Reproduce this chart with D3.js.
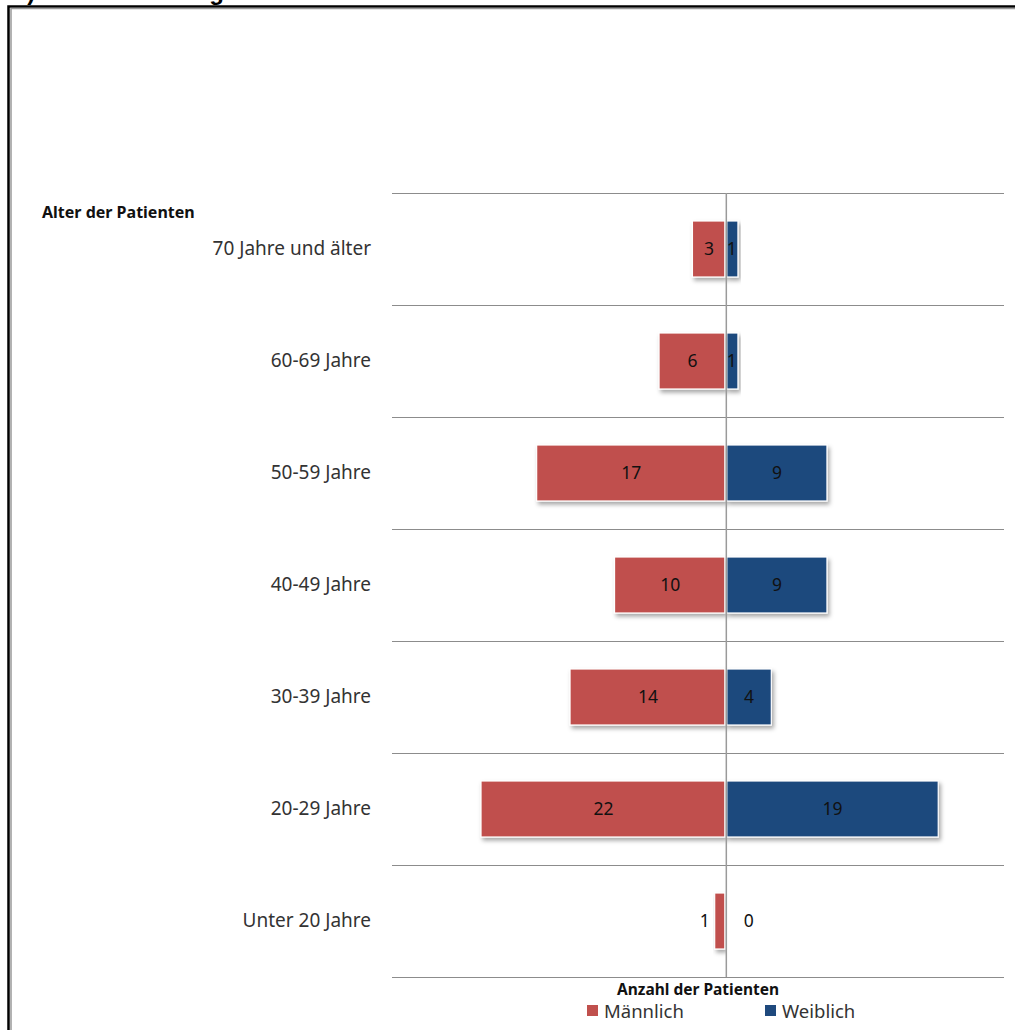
<!DOCTYPE html>
<html>
<head>
<meta charset="utf-8">
<script src="https://cdn.jsdelivr.net/npm/d3@7"></script>
<style>
  html, body { margin: 0; padding: 0; background: #fff; }
  svg { display: block; }
</style>
</head>
<body>
<script>
// Age groups, top to bottom
const categories = ["70 Jahre und älter", "60-69 Jahre", "50-59 Jahre", "40-49 Jahre", "30-39 Jahre", "20-29 Jahre", "Unter 20 Jahre"];
// Patient counts per age group
const maleValues = [3, 6, 17, 10, 14, 22, 1];
const femaleValues = [1, 1, 9, 9, 4, 19, 0];
const seriesNames = ["Männlich", "Weiblich"];
const seriesColors = ["#C0504D", "#1F497D"];

const W = 1015, H = 1030;
const svg = d3.select("body").append("svg").attr("width", W).attr("height", H);

// drop shadow for the bars
const defs = svg.append("defs");
const f = defs.append("filter").attr("id", "shadow")
  .attr("x", "-10%").attr("y", "-10%").attr("width", "130%").attr("height", "140%");
f.append("feDropShadow").attr("dx", 2).attr("dy", 3).attr("stdDeviation", 2)
  .attr("flood-color", "#000").attr("flood-opacity", 0.35);

// page title (mostly above the visible area)
svg.append("text").attr("x", 14).attr("y", 0)
  .attr("font-family", "Liberation Sans, Arial, sans-serif").attr("font-weight", "bold")
  .attr("font-size", 24).attr("fill", "#000")
  .text("3) Altersverteilung der Patienten");

// frame
svg.append("path").attr("d", `M8.5,${H} V6.5 H${W}`).attr("fill", "none").attr("stroke", "#000").attr("stroke-width", 2.5);
svg.append("path").attr("d", `M11,${H} V8.5 H${W}`).attr("fill", "none").attr("stroke", "#999").attr("stroke-width", 1.5);

const x = d3.scaleLinear().domain([-30, 25]).range([392, 1004]);
const y = d3.scaleBand().domain(categories).range([193, 977]).paddingInner(0.5).paddingOuter(0.25);

// category separators
const step = y.step();
const bounds = d3.range(categories.length + 1).map(i => 193 + i * step);
svg.append("g").selectAll("line").data(bounds).join("line")
  .attr("x1", x(-30)).attr("x2", x(25))
  .attr("y1", d => Math.round(d) + 0.5).attr("y2", d => Math.round(d) + 0.5)
  .attr("stroke", "#8c8c8c").attr("stroke-width", 1);

const rows = categories.map((c, i) => ({ c, m: maleValues[i], w: femaleValues[i] }));

// male bars (left)
svg.append("g").selectAll("rect").data(rows).join("rect")
  .attr("x", d => x(-d.m)).attr("y", d => y(d.c))
  .attr("width", d => x(0) - 1 - x(-d.m)).attr("height", y.bandwidth())
  .attr("fill", seriesColors[0]).attr("stroke", "#fff").attr("stroke-width", 1.2)
  .attr("filter", "url(#shadow)");

// female bars (right)
svg.append("g").selectAll("rect").data(rows.filter(d => d.w > 0)).join("rect")
  .attr("x", x(0) + 1).attr("y", d => y(d.c))
  .attr("width", d => x(d.w) - x(0)).attr("height", y.bandwidth())
  .attr("fill", seriesColors[1]).attr("stroke", "#fff").attr("stroke-width", 1.2)
  .attr("filter", "url(#shadow)");

// center axis
svg.append("line").attr("x1", x(0) + 0.5).attr("x2", x(0) + 0.5)
  .attr("y1", 193).attr("y2", 977).attr("stroke", "#9a9a9a").attr("stroke-width", 1.5);

const labelFont = "Noto Sans, DejaVu Sans, sans-serif";

// value labels
const lab = svg.append("g").attr("font-family", labelFont).attr("font-size", 17.5).attr("fill", "#111")
  .attr("text-anchor", "middle");
rows.forEach(d => {
  const cy = y(d.c) + y.bandwidth() / 2 + 6;
  const mw = x(0) - x(-d.m);
  const mx = mw > 20 ? (x(-d.m) + x(0)) / 2 : x(-d.m) - 10;
  lab.append("text").attr("x", mx).attr("y", cy).text(d.m);
  const ww = x(d.w) - x(0);
  const wx = d.w === 0 ? x(0) + 23 : (ww > 20 ? (x(0) + x(d.w)) / 2 + 1 : x(0) + 6);
  lab.append("text").attr("x", wx).attr("y", cy).text(d.w);
});

// category labels
svg.append("g").selectAll("text").data(categories).join("text")
  .attr("x", 371).attr("y", d => y(d) + y.bandwidth() / 2 + 6)
  .attr("text-anchor", "end").attr("font-family", labelFont).attr("font-size", 19)
  .attr("fill", "#333").text(d => d);

// axis titles
svg.append("text").attr("x", 42).attr("y", 218)
  .attr("font-family", labelFont).attr("font-weight", "bold").attr("font-size", 16)
  .attr("fill", "#111").text("Alter der Patienten");
svg.append("text").attr("x", 698).attr("y", 995).attr("text-anchor", "middle")
  .attr("font-family", labelFont).attr("font-weight", "bold").attr("font-size", 15.5)
  .attr("fill", "#111").text("Anzahl der Patienten");

// legend
const legX = [587, 765];
const leg = svg.append("g");
seriesNames.forEach((n, i) => {
  leg.append("rect").attr("x", legX[i]).attr("y", 1005).attr("width", 11).attr("height", 11)
    .attr("fill", seriesColors[i]);
  leg.append("text").attr("x", legX[i] + 17).attr("y", 1018)
    .attr("font-family", labelFont).attr("font-size", 18.5).attr("fill", "#333").text(n);
});
</script>
</body>
</html>
